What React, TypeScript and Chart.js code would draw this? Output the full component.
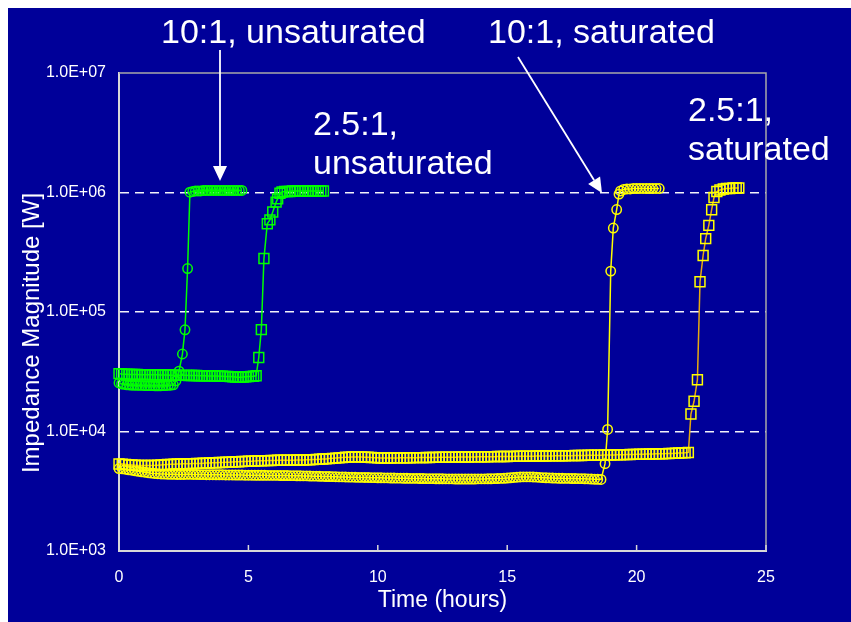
import { useEffect, useRef } from 'react';
import { Chart, registerables } from 'chart.js';

Chart.register(...registerables);

// ---------- data ----------
const xTickValues = [0, 5, 10, 15, 20, 25];
const yTickValues = [1e3, 1e4, 1e5, 1e6, 1e7];
const yTickLabels = ['1.0E+03', '1.0E+04', '1.0E+05', '1.0E+06', '1.0E+07'];

const seriesNames = ['10:1, unsaturated', '2.5:1, unsaturated', '10:1, saturated', '2.5:1, saturated'];
const annotationTop = ['10:1, unsaturated', '10:1, saturated'];
const annotationMid1 = ['2.5:1,', 'unsaturated'];
const annotationMid2 = ['2.5:1,', 'saturated'];
const xTitle = 'Time (hours)';
const yTitle = 'Impedance Magnitude [W]';

// 10:1, unsaturated (green circles)
const greenCircles: [number, number][] = [
  [0, 25500], [0.1, 25000], [0.2, 24800], [0.3, 24600], [0.4, 24500], [0.5, 24400], [0.6, 24400], [0.7, 24300],
  [0.8, 24300], [0.9, 24300], [1, 24200], [1.1, 24200], [1.2, 24200], [1.3, 24200], [1.4, 24100], [1.5, 24100],
  [1.6, 24100], [1.7, 24200], [1.8, 24200], [1.9, 24300], [2, 24400], [2.1, 24600], [2.2, 26500],
  [2.32, 32000], [2.45, 44500], [2.55, 71000], [2.65, 231000], [2.74, 1006000],
  [2.85, 1020000], [2.95, 1030000], [3.05, 1030000], [3.15, 1030000], [3.25, 1040000], [3.35, 1040000],
  [3.45, 1040000], [3.55, 1040000], [3.65, 1040000], [3.75, 1040000], [3.85, 1040000], [3.95, 1040000],
  [4.05, 1040000], [4.15, 1040000], [4.25, 1040000], [4.35, 1040000], [4.45, 1040000], [4.55, 1040000],
  [4.65, 1040000], [4.75, 1040000],
];

// 2.5:1, unsaturated (green squares)
const greenSquares: [number, number][] = [
  [0, 30500], [0.1, 30300], [0.2, 30200], [0.3, 30100], [0.4, 30000], [0.5, 30000], [0.6, 30000], [0.7, 30000],
  [0.8, 29900], [0.9, 29900], [1, 29900], [1.1, 29900], [1.2, 29800], [1.3, 29800], [1.4, 29800], [1.5, 29800],
  [1.6, 29700], [1.7, 29700], [1.8, 29700], [1.9, 29700], [2, 29600], [2.1, 29600], [2.2, 29600], [2.3, 29500],
  [2.4, 29500], [2.5, 29500], [2.6, 29500], [2.7, 29400], [2.8, 29400], [2.9, 29400], [3, 29400], [3.1, 29300],
  [3.2, 29300], [3.3, 29300], [3.4, 29200], [3.5, 29200], [3.6, 29200], [3.7, 29100], [3.8, 29100], [3.9, 29000],
  [4, 29000], [4.1, 28900], [4.2, 28900], [4.3, 28800], [4.4, 28700], [4.5, 28600], [4.6, 28500], [4.7, 28500],
  [4.8, 28600], [4.9, 28700], [5, 28800], [5.1, 28900], [5.2, 29000], [5.3, 29300],
  [5.4, 41600], [5.5, 71200], [5.6, 280000], [5.73, 548000], [5.83, 590000], [5.94, 686000], [6.07, 830000],
  [6.13, 885000], [6.22, 987000],
  [6.3, 1010000], [6.4, 1020000], [6.5, 1020000], [6.6, 1020000], [6.7, 1030000], [6.8, 1030000], [6.9, 1030000],
  [7, 1030000], [7.1, 1030000], [7.2, 1030000], [7.3, 1030000], [7.4, 1030000], [7.5, 1030000], [7.6, 1030000],
  [7.7, 1030000], [7.8, 1030000], [7.9, 1030000],
];

// 10:1, saturated (yellow circles)
const yellowCircles: [number, number][] = [
  [0, 4900], [0.125, 4870], [0.25, 4830], [0.375, 4780], [0.5, 4740], [0.625, 4690], [0.75, 4640], [0.875, 4600],
  [1, 4560], [1.125, 4520], [1.25, 4480], [1.375, 4450], [1.5, 4430], [1.625, 4410], [1.75, 4400], [1.875, 4390],
  [2, 4380], [2.125, 4380], [2.25, 4370], [2.375, 4370], [2.5, 4370], [2.625, 4380], [2.75, 4380], [2.875, 4370],
  [3, 4370], [3.125, 4360], [3.25, 4360], [3.375, 4350], [3.5, 4350], [3.625, 4350], [3.75, 4340], [3.875, 4340],
  [4, 4340], [4.125, 4330], [4.25, 4330], [4.375, 4330], [4.5, 4320], [4.625, 4320], [4.75, 4320], [4.875, 4310],
  [5, 4310], [5.125, 4310], [5.25, 4300], [5.375, 4300], [5.5, 4300], [5.625, 4300], [5.75, 4290], [5.875, 4290],
  [6, 4290], [6.125, 4290], [6.25, 4280], [6.375, 4280], [6.5, 4280], [6.625, 4270], [6.75, 4270], [6.875, 4260],
  [7, 4260], [7.125, 4250], [7.25, 4250], [7.375, 4240], [7.5, 4230], [7.625, 4230], [7.75, 4220], [7.875, 4210],
  [8, 4200], [8.125, 4200], [8.25, 4190], [8.375, 4180], [8.5, 4170], [8.625, 4170], [8.75, 4160], [8.875, 4150],
  [9, 4150], [9.125, 4140], [9.25, 4130], [9.375, 4130], [9.5, 4120], [9.625, 4120], [9.75, 4110], [9.875, 4110],
  [10, 4100], [10.125, 4100], [10.25, 4090], [10.375, 4090], [10.5, 4080], [10.625, 4080], [10.75, 4070], [10.875, 4070],
  [11, 4060], [11.125, 4060], [11.25, 4050], [11.375, 4050], [11.5, 4050], [11.625, 4040], [11.75, 4040], [11.875, 4030],
  [12, 4030], [12.125, 4030], [12.25, 4020], [12.375, 4020], [12.5, 4020], [12.625, 4010], [12.75, 4010], [12.875, 4010],
  [13, 4000], [13.125, 4000], [13.25, 4000], [13.375, 4000], [13.5, 4000], [13.625, 4000], [13.75, 4000], [13.875, 4010],
  [14, 4010], [14.125, 4010], [14.25, 4020], [14.375, 4020], [14.5, 4030], [14.625, 4040], [14.75, 4050], [14.875, 4060],
  [15, 4080], [15.125, 4100], [15.25, 4120], [15.375, 4140], [15.5, 4160], [15.625, 4170], [15.75, 4170], [15.875, 4170],
  [16, 4160], [16.125, 4150], [16.25, 4130], [16.375, 4110], [16.5, 4100], [16.625, 4090], [16.75, 4080], [16.875, 4070],
  [17, 4060], [17.125, 4060], [17.25, 4050], [17.375, 4050], [17.5, 4040], [17.625, 4040], [17.75, 4030], [17.875, 4030],
  [18, 4020], [18.125, 4010], [18.25, 4000], [18.375, 3990], [18.5, 3980], [18.625, 3970],
  [18.78, 5380], [18.88, 10400], [19.0, 220000], [19.1, 504000], [19.23, 720000], [19.32, 970000], [19.38, 1030000],
  [19.5, 1060000], [19.625, 1070000], [19.75, 1070000], [19.875, 1080000], [20, 1080000], [20.125, 1080000],
  [20.25, 1080000], [20.375, 1080000], [20.5, 1080000], [20.625, 1080000], [20.75, 1080000], [20.875, 1080000],
];

// 2.5:1, saturated (yellow squares)
const yellowSquares: [number, number][] = [
  [0, 5350], [0.125, 5320], [0.25, 5290], [0.375, 5260], [0.5, 5240], [0.625, 5220], [0.75, 5200], [0.875, 5190],
  [1, 5190], [1.125, 5190], [1.25, 5200], [1.375, 5210], [1.5, 5230], [1.625, 5250], [1.75, 5270], [1.875, 5290],
  [2, 5310], [2.125, 5330], [2.25, 5340], [2.375, 5350], [2.5, 5360], [2.625, 5370], [2.75, 5380], [2.875, 5390],
  [3, 5400], [3.125, 5410], [3.25, 5420], [3.375, 5440], [3.5, 5450], [3.625, 5470], [3.75, 5480], [3.875, 5500],
  [4, 5510], [4.125, 5530], [4.25, 5540], [4.375, 5560], [4.5, 5580], [4.625, 5590], [4.75, 5610], [4.875, 5620],
  [5, 5640], [5.125, 5650], [5.25, 5670], [5.375, 5680], [5.5, 5690], [5.625, 5700], [5.75, 5710], [5.875, 5720],
  [6, 5730], [6.125, 5740], [6.25, 5740], [6.375, 5750], [6.5, 5750], [6.625, 5760], [6.75, 5760], [6.875, 5770],
  [7, 5770], [7.125, 5780], [7.25, 5790], [7.375, 5800], [7.5, 5820], [7.625, 5840], [7.75, 5860], [7.875, 5880],
  [8, 5900], [8.125, 5930], [8.25, 5960], [8.375, 5990], [8.5, 6020], [8.625, 6050], [8.75, 6080], [8.875, 6100],
  [9, 6120], [9.125, 6130], [9.25, 6130], [9.375, 6120], [9.5, 6100], [9.625, 6080], [9.75, 6060], [9.875, 6040],
  [10, 6020], [10.125, 6000], [10.25, 6000], [10.375, 6000], [10.5, 6000], [10.625, 6010], [10.75, 6010], [10.875, 6020],
  [11, 6020], [11.125, 6030], [11.25, 6030], [11.375, 6040], [11.5, 6040], [11.625, 6050], [11.75, 6050], [11.875, 6060],
  [12, 6060], [12.125, 6070], [12.25, 6070], [12.375, 6080], [12.5, 6080], [12.625, 6090], [12.75, 6090], [12.875, 6100],
  [13, 6100], [13.125, 6110], [13.25, 6110], [13.375, 6120], [13.5, 6120], [13.625, 6130], [13.75, 6130], [13.875, 6140],
  [14, 6140], [14.125, 6150], [14.25, 6150], [14.375, 6160], [14.5, 6160], [14.625, 6170], [14.75, 6170], [14.875, 6180],
  [15, 6180], [15.125, 6190], [15.25, 6190], [15.375, 6200], [15.5, 6200], [15.625, 6210], [15.75, 6210], [15.875, 6220],
  [16, 6220], [16.125, 6230], [16.25, 6230], [16.375, 6240], [16.5, 6240], [16.625, 6250], [16.75, 6250], [16.875, 6260],
  [17, 6260], [17.125, 6270], [17.25, 6270], [17.375, 6280], [17.5, 6280], [17.625, 6290], [17.75, 6300], [17.875, 6300],
  [18, 6310], [18.125, 6320], [18.25, 6320], [18.375, 6330], [18.5, 6340], [18.625, 6340], [18.75, 6350], [18.875, 6360],
  [19, 6360], [19.125, 6370], [19.25, 6380], [19.375, 6390], [19.5, 6400], [19.625, 6410], [19.75, 6420], [19.875, 6430],
  [20, 6440], [20.125, 6450], [20.25, 6460], [20.375, 6470], [20.5, 6480], [20.625, 6490], [20.75, 6500], [20.875, 6510],
  [21, 6520], [21.125, 6530], [21.25, 6550], [21.375, 6560], [21.5, 6580], [21.625, 6600], [21.75, 6620], [21.875, 6640],
  [22, 6680],
  [22.1, 14000], [22.22, 17900], [22.35, 27100], [22.45, 179000], [22.57, 297000], [22.67, 411000], [22.79, 531000],
  [22.9, 718000], [22.99, 908000], [23.1, 1020000], [23.22, 1050000],
  [23.35, 1070000], [23.475, 1080000], [23.6, 1080000], [23.725, 1090000], [23.85, 1090000], [23.95, 1090000],
];

// ---------- styles ----------
const NAVY = '#000099';
const GREEN = '#00FF00';
const YELLOW = '#FFFF00';
const GOLD = '#E6AA10';
const FONT = '"Liberation Sans", Arial, Helvetica, sans-serif';

const toPoints = (arr: [number, number][]) => arr.map(([x, y]) => ({ x, y }));

const decorPlugin = {
  id: 'decor',
  beforeDraw(chart: any) {
    const { ctx, width, height } = chart;
    ctx.save();
    ctx.fillStyle = NAVY;
    ctx.fillRect(0, 0, width, height);
    ctx.restore();
  },
  beforeDatasetsDraw(chart: any) {
    const { ctx, chartArea } = chart;
    const { left, right, top, bottom } = chartArea;
    ctx.save();
    ctx.strokeStyle = '#A8A8A8';
    ctx.lineWidth = 1.5;
    ctx.beginPath();
    ctx.moveTo(left, top);
    ctx.lineTo(right, top);
    ctx.lineTo(right, bottom);
    ctx.stroke();
    // inside tick marks on x axis
    const xs = chart.scales.x;
    ctx.strokeStyle = '#D8D8D8';
    ctx.lineWidth = 1.5;
    xTickValues.forEach((v) => {
      if (v === 0) return;
      const px = xs.getPixelForValue(v);
      ctx.beginPath();
      ctx.moveTo(px, bottom);
      ctx.lineTo(px, bottom - 6);
      ctx.stroke();
    });
    ctx.restore();
  },
  afterDraw(chart: any) {
    const { ctx } = chart;
    ctx.save();
    ctx.fillStyle = '#FFFFFF';
    ctx.strokeStyle = '#FFFFFF';
    ctx.textBaseline = 'alphabetic';
    ctx.textAlign = 'left';
    ctx.font = `34px ${FONT}`;
    ctx.fillText(annotationTop[0], 153, 35);
    ctx.fillText(annotationTop[1], 480, 35);
    ctx.fillText(annotationMid1[0], 305, 127);
    ctx.fillText(annotationMid1[1], 305, 166);
    ctx.fillText(annotationMid2[0], 680, 113);
    ctx.fillText(annotationMid2[1], 680, 152);

    const arrow = (x1: number, y1: number, x2: number, y2: number) => {
      const ang = Math.atan2(y2 - y1, x2 - x1);
      const hl = 15;
      const hw = 7;
      const bx = x2 - hl * Math.cos(ang);
      const by = y2 - hl * Math.sin(ang);
      ctx.lineWidth = 1.8;
      ctx.beginPath();
      ctx.moveTo(x1, y1);
      ctx.lineTo(bx, by);
      ctx.stroke();
      ctx.beginPath();
      ctx.moveTo(x2, y2);
      ctx.lineTo(bx + hw * Math.sin(ang), by - hw * Math.cos(ang));
      ctx.lineTo(bx - hw * Math.sin(ang), by + hw * Math.cos(ang));
      ctx.closePath();
      ctx.fill();
    };
    arrow(212, 42, 212, 173);
    arrow(510, 49, 594, 185);

    // y axis title
    ctx.translate(31, 325);
    ctx.rotate(-Math.PI / 2);
    ctx.textAlign = 'center';
    ctx.font = `24px ${FONT}`;
    ctx.fillText(yTitle, 0, 0);
    ctx.restore();
  },
};

export default function App() {
  const canvasRef = useRef<HTMLCanvasElement | null>(null);

  useEffect(() => {
    if (!canvasRef.current) return;
    const common = {
      showLine: true,
      borderWidth: 1.5,
      pointBorderWidth: 1.5,
      pointBackgroundColor: 'rgba(0,0,0,0)',
      tension: 0,
      clip: false as any,
    };
    const chart = new Chart(canvasRef.current, {
      type: 'scatter',
      data: {
        datasets: [
          {
            ...common,
            label: seriesNames[1],
            data: toPoints(greenSquares),
            borderColor: GREEN,
            pointBorderColor: GREEN,
            pointStyle: 'rect',
            pointRadius: 7,
          },
          {
            ...common,
            label: seriesNames[0],
            data: toPoints(greenCircles),
            borderColor: GREEN,
            pointBorderColor: GREEN,
            pointStyle: 'circle',
            pointRadius: 4.7,
          },
          {
            ...common,
            label: seriesNames[3],
            data: toPoints(yellowSquares),
            borderColor: GOLD,
            pointBorderColor: YELLOW,
            pointStyle: 'rect',
            pointRadius: 7,
          },
          {
            ...common,
            label: seriesNames[2],
            data: toPoints(yellowCircles),
            borderColor: YELLOW,
            pointBorderColor: YELLOW,
            pointStyle: 'circle',
            pointRadius: 4.7,
          },
        ],
      },
      options: {
        animation: false,
        responsive: false,
        devicePixelRatio: 1,
        layout: { padding: { left: 0, top: 65, right: 85, bottom: 0 } },
        plugins: {
          legend: { display: false },
          tooltip: { enabled: false },
        },
        scales: {
          x: {
            type: 'linear',
            min: 0,
            max: 25,
            afterBuildTicks: (s: any) => {
              s.ticks = xTickValues.map((v) => ({ value: v }));
            },
            afterFit: (s: any) => {
              s.height = 71;
            },
            ticks: {
              color: '#FFFFFF',
              font: { family: FONT, size: 16 },
              padding: 17,
              maxRotation: 0,
              callback: (v: any) => String(v),
            },
            grid: { display: false, drawTicks: false },
            border: { display: true, color: '#D8D8D8', width: 2 },
            title: {
              display: true,
              text: xTitle,
              color: '#FFFFFF',
              font: { family: FONT, size: 23 },
              padding: { top: 0, bottom: 8 },
            },
          },
          y: {
            type: 'logarithmic',
            min: 1000,
            max: 10000000,
            afterBuildTicks: (s: any) => {
              s.ticks = yTickValues.map((v) => ({ value: v }));
            },
            afterFit: (s: any) => {
              s.width = 111;
            },
            ticks: {
              color: '#FFFFFF',
              font: { family: FONT, size: 16 },
              padding: 13,
              autoSkip: false,
              callback: (v: any) => {
                const i = yTickValues.indexOf(Number(v));
                return i >= 0 ? yTickLabels[i] : '';
              },
            },
            grid: {
              drawTicks: false,
              lineWidth: 1.5,
              color: (ctx: any) => {
                const v = ctx.tick ? ctx.tick.value : 0;
                return v > 1000 && v < 10000000 ? 'rgba(255,255,255,0.95)' : 'rgba(0,0,0,0)';
              },
            },
            border: { display: true, color: '#D8D8D8', width: 2, dash: [9, 6] },
          },
        },
      },
      plugins: [decorPlugin],
    } as any);
    return () => chart.destroy();
  }, []);

  return (
    <div style={{ position: 'fixed', left: 8, top: 8, width: 843, height: 614, overflow: 'hidden' }}>
      <canvas ref={canvasRef} width={843} height={614} style={{ display: 'block' }} />
    </div>
  );
}
